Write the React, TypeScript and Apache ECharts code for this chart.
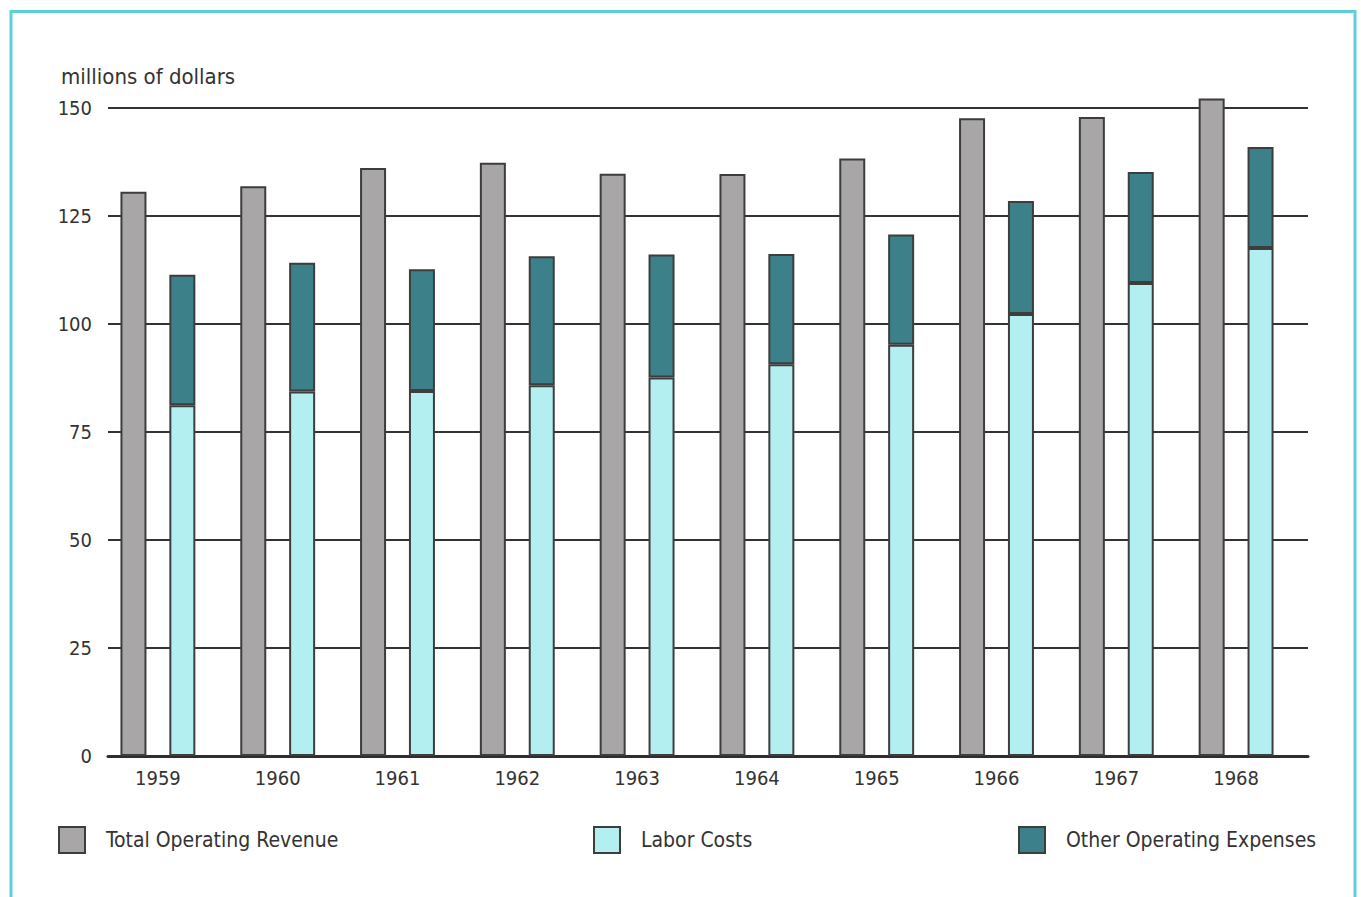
import React, { useEffect, useRef } from "react";
import * as echarts from "echarts";

const years = ["1959", "1960", "1961", "1962", "1963", "1964", "1965", "1966", "1967", "1968"];
const totalRevenue = [130.6, 131.9, 136.1, 137.3, 134.8, 134.7, 138.3, 147.6, 147.9, 152.2];
const laborCosts = [81.2, 84.4, 84.5, 85.8, 87.6, 90.7, 95.2, 102.3, 109.5, 117.6];
const otherExpenses = [30.2, 29.8, 28.2, 29.9, 28.5, 25.5, 25.5, 26.2, 25.7, 23.4];
const yTicks = { min: 0, max: 150, interval: 25 };

const FONT = "'Liberation Sans Narrow', 'DejaVu Sans Condensed', 'Liberation Sans', Arial, sans-serif";
const TEXT = "#333333";
const BORDER = "#3d3d3d";
const GREY = "#a8a6a7";
const CYAN = "#b3eff1";
const TEAL = "#3c8189";

export default function App() {
  const ref = useRef<HTMLDivElement>(null);
  useEffect(() => {
    if (!ref.current) return;
    const chart = echarts.init(ref.current, null, { renderer: "svg" });
    const legendBase = {
      top: 821,
      itemWidth: 26,
      itemHeight: 26,
      icon: "rect",
      selectedMode: false,
      itemStyle: { borderColor: BORDER, borderWidth: 2 },
      textStyle: { fontFamily: FONT, fontSize: 21, color: TEXT, padding: [0, 0, 0, 16] },
    };
    chart.setOption({
      animation: false,
      backgroundColor: "#ffffff",
      title: {
        text: "millions of dollars",
        left: 56,
        top: 60,
        textStyle: { fontFamily: FONT, fontSize: 22, fontWeight: "normal", color: TEXT },
      },
      legend: [
        { ...legendBase, left: 53, data: ["Total Operating Revenue"] },
        { ...legendBase, left: 588, data: ["Labor Costs"] },
        { ...legendBase, left: 1013, data: ["Other Operating Expenses"] },
      ],
      graphic: [
        {
          type: "rect",
          shape: { x: 11, y: 11.5, width: 1344, height: 900 },
          style: { fill: "none", stroke: "#5ccfdc", lineWidth: 3 },
          silent: true,
        },
      ],
      grid: [
        { left: 108, right: 53, top: 108, bottom: 141 },
        { left: 98, right: 65, top: 108, bottom: 141 },
      ],
      xAxis: [
        {
          type: "category",
          gridIndex: 0,
          data: years,
          axisLabel: { show: false },
          axisTick: { show: false },
          axisLine: { show: true, lineStyle: { color: "#2e2e2e", width: 3 } },
        },
        {
          type: "category",
          gridIndex: 1,
          data: years,
          axisLine: { show: false },
          axisTick: { show: false },
          axisLabel: { fontFamily: FONT, fontSize: 20, color: TEXT, margin: 12 },
        },
      ],
      yAxis: [
        {
          type: "value",
          gridIndex: 0,
          min: yTicks.min,
          max: yTicks.max,
          interval: yTicks.interval,
          axisLine: { show: false },
          axisTick: { show: false },
          axisLabel: { fontFamily: FONT, fontSize: 20, color: TEXT, margin: 16 },
          splitLine: { lineStyle: { color: "#333333", width: 2 } },
        },
        {
          type: "value",
          gridIndex: 1,
          min: yTicks.min,
          max: yTicks.max,
          interval: yTicks.interval,
          show: false,
          splitLine: { show: false },
        },
      ],
      series: [
        {
          name: "Total Operating Revenue",
          type: "bar",
          xAxisIndex: 1,
          yAxisIndex: 1,
          data: totalRevenue,
          barWidth: 26,
          barGap: "88%",
          clip: false,
          itemStyle: { color: GREY, borderColor: BORDER, borderWidth: 2 },
        },
        {
          name: "Labor Costs",
          type: "bar",
          stack: "costs",
          xAxisIndex: 1,
          yAxisIndex: 1,
          data: laborCosts,
          barWidth: 26,
          barGap: "88%",
          clip: false,
          itemStyle: { color: CYAN, borderColor: BORDER, borderWidth: 2 },
        },
        {
          name: "Other Operating Expenses",
          type: "bar",
          stack: "costs",
          xAxisIndex: 1,
          yAxisIndex: 1,
          data: otherExpenses,
          barWidth: 26,
          barGap: "88%",
          clip: false,
          itemStyle: { color: TEAL, borderColor: BORDER, borderWidth: 2 },
        },
      ],
    });
    return () => chart.dispose();
  }, []);
  return (
    <div
      ref={ref}
      style={{ position: "absolute", left: 0, top: 0, width: 1361, height: 897 }}
    />
  );
}
